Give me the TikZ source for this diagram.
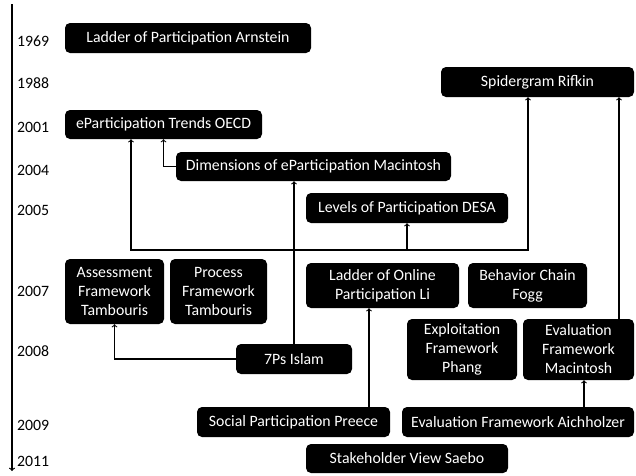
\documentclass[tikz,border=0pt]{standalone}
\usepackage{fontspec}
\setmainfont{Carlito}
\newcommand{\evtfont}{\fontsize{15.8}{19}\selectfont}
\tikzset{
  evt/.style={fill=black, text=white, rounded corners=5pt, inner sep=0pt, align=center, font=\evtfont},
  yr/.style={anchor=west, inner sep=0pt, font=\evtfont},
  link/.style={->, line width=1.1pt}
}
\begin{document}
\begin{tikzpicture}[x=1pt,y=-1pt]
\useasboundingbox (0,0) rectangle (636,475);

% the time axis
\coordinate (ttop) at (12,4);
\coordinate (tbot) at (12,471);
\draw[->, line width=1.2pt] (ttop) -- (tbot);

% years
\node[yr] (y1969) at (17,41) {1969};
\node[yr] (y1988) at (17,83) {1988};
\node[yr] (y2001) at (17,127) {2001};
\node[yr] (y2004) at (17,170) {2004};
\node[yr] (y2005) at (17,210) {2005};
\node[yr] (y2007) at (17,291) {2007};
\node[yr] (y2008) at (17,351) {2008};
\node[yr] (y2009) at (17,425) {2009};
\node[yr] (y2011) at (17,461) {2011};

% the models
\node[evt, minimum width=246, minimum height=30] (arn) at (188,38) {Ladder of Participation Arnstein};
\node[evt, minimum width=193, minimum height=30] (spider) at (537.5,82) {Spidergram Rifkin};
\node[evt, minimum width=197, minimum height=29] (oecd) at (163.5,124.5) {eParticipation Trends OECD};
\node[evt, minimum width=275, minimum height=29] (dim) at (313.5,166.5) {Dimensions of eParticipation Macintosh};
\node[evt, minimum width=202, minimum height=30] (desa) at (407,208) {Levels of Participation DESA};
\node[evt, minimum width=99, minimum height=65] (assess) at (114.5,291.5) {Assessment\\Framework\\Tambouris};
\node[evt, minimum width=97, minimum height=65] (process) at (218.5,291.5) {Process\\Framework\\Tambouris};
\node[evt, minimum width=153, minimum height=45] (li) at (382.5,285.5) {Ladder of Online\\Participation Li};
\node[evt, minimum width=119, minimum height=45] (fogg) at (527.5,285.5) {Behavior Chain\\Fogg};
\node[evt, minimum width=110, minimum height=61] (phang) at (462,349.5) {Exploitation\\Framework\\Phang};
\node[evt, minimum width=111, minimum height=61] (evmac) at (578.5,349.5) {Evaluation\\Framework\\Macintosh};
\node[evt, minimum width=116, minimum height=30] (islam) at (294,359) {7Ps Islam};
\node[evt, minimum width=193, minimum height=30] (preece) at (293.5,422) {Social Participation Preece};
\node[evt, minimum width=232, minimum height=30] (aich) at (518,422) {Evaluation Framework Aichholzer};
\node[evt, minimum width=202, minimum height=29] (saebo) at (407,458.5) {Stakeholder View Saebo};

% connectors
\coordinate (bus) at (0,250);
\coordinate (oecdfoot) at ([xshift=-32.5pt]oecd.south);
\coordinate (spiderfoot) at ([xshift=-9.5pt]spider.south);
\coordinate (spiderfoot2) at ([xshift=81.5pt]spider.south);
\coordinate (lifoot) at ([xshift=-13.5pt]li.south);
\coordinate (evmacfoot) at ([xshift=5.5pt]evmac.south);

\draw[link] (dim.west) -| (oecd.south);
\draw[link] (islam.north) -- (islam.north |- dim.south);
\draw[link] (islam.north |- bus) -| (oecdfoot);
\draw[link] (islam.north |- bus) -| (desa.south);
\draw[link] (islam.north |- bus) -| (spiderfoot);
\draw[link] (islam.west) -| (assess.south);
\draw[link] (lifoot |- preece.north) -- (lifoot);
\draw[link] (evmacfoot |- aich.north) -- (evmacfoot);
\draw[link] (spiderfoot2 |- evmac.north) -- (spiderfoot2);
\end{tikzpicture}
\end{document}
